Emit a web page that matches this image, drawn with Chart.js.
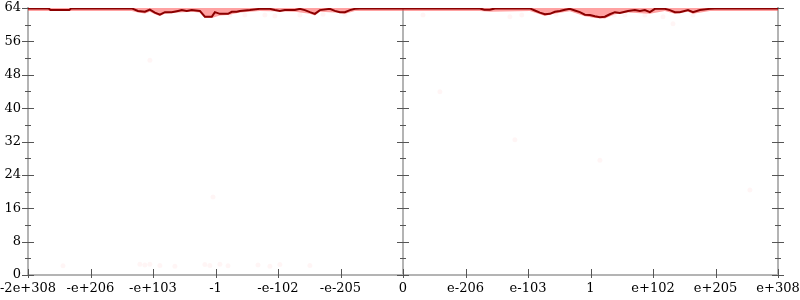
<!DOCTYPE html>
<html>
<head>
<meta charset="utf-8">
<script src="https://cdn.jsdelivr.net/npm/chart.js@4/dist/chart.umd.min.js"></script>
<style>
  html, body { margin: 0; padding: 0; background: #fff; }
  #wrap { width: 800px; height: 300px; }
</style>
</head>
<body>
<div id="wrap"><canvas id="bits-chart"></canvas></div>
<script>
// tick labels along the bottom (ordinal flonum positions 0..12)
const xTickLabels = ['-2e+308', '-e+206', '-e+103', '-1', '-e-102', '-e-205', '0',
  'e-206', 'e-103', '1', 'e+102', 'e+205', 'e+308'];

// mean bits of accuracy (dark line)
const meanX = [0, 0.33, 0.36, 0.66, 0.69, 1.66, 1.76, 1.87, 1.95, 2.03, 2.11, 2.19, 2.30, 2.40,
  2.46, 2.54, 2.62, 2.75, 2.83, 2.94, 2.99, 3.07, 3.20, 3.26, 3.34, 3.39, 3.55, 3.71, 3.87, 3.95,
  4.03, 4.11, 4.27, 4.35, 4.43, 4.51, 4.59, 4.67, 4.83, 4.91, 4.99, 5.07, 5.15, 5.23, 5.31, 5.95,
  7.23, 7.30, 7.39, 7.47, 8.03, 8.11, 8.19, 8.27, 8.35, 8.43, 8.51, 8.59, 8.67, 8.75, 8.83, 8.91,
  8.99, 9.07, 9.15, 9.23, 9.31, 9.39, 9.47, 9.60, 9.71, 9.79, 9.87, 9.95, 10.03, 10.19, 10.27,
  10.35, 10.43, 10.56, 10.64, 10.75, 10.91, 10.99, 12];
const meanBits = [63.9, 63.9, 63.5, 63.5, 63.9, 63.9, 63.3, 63.1, 63.6, 62.9, 62.4, 63.0, 63.0, 63.3,
  63.5, 63.3, 63.5, 63.3, 61.9, 61.9, 63.0, 62.6, 62.6, 63.1, 63.1, 63.3, 63.5, 63.8, 63.8, 63.5,
  63.3, 63.5, 63.5, 63.8, 63.5, 63.0, 62.6, 63.5, 63.8, 63.3, 63.0, 63.0, 63.5, 63.8, 63.9, 63.9,
  63.9, 63.6, 63.6, 63.9, 63.9, 63.4, 62.9, 62.5, 62.6, 63.1, 63.3, 63.6, 63.8, 63.4, 63.0, 62.4,
  62.3, 62.0, 61.8, 61.9, 62.5, 63.0, 62.8, 63.3, 63.5, 63.3, 63.5, 63.0, 63.8, 63.8, 63.5,
  63.0, 63.0, 63.5, 63.0, 63.5, 63.8, 63.9, 63.9];

// lower edge of the min/max band (light red)
const bandX = [0, 1.66, 1.76, 1.87, 1.95, 2.03, 2.11, 2.19, 2.40, 2.62, 2.75, 2.83, 2.94, 3.07,
  3.20, 3.39, 3.71, 4.27, 4.51, 4.59, 4.67, 4.91, 5.07, 5.23, 7.23, 7.39, 8.03, 8.19, 8.27, 8.43,
  8.67, 8.91, 9.07, 9.23, 9.39, 9.60, 9.95, 10.19, 10.35, 10.56, 10.64, 10.91, 12];
const bandLow = [63.3, 63.3, 62.9, 62.7, 63.1, 62.5, 62.1, 62.6, 62.9, 63.1, 62.9, 61.6, 61.6, 62.2,
  62.3, 62.9, 63.3, 63.1, 62.6, 62.2, 63.1, 62.9, 62.6, 63.3, 63.3, 63.1, 63.3, 62.5, 62.1, 62.7,
  63.2, 62.0, 61.6, 61.5, 62.5, 62.9, 62.6, 63.3, 62.6, 63.1, 62.6, 63.3, 63.3];

// scattered individual samples (very faint)
const sampleX = [0.56, 1.79, 1.87, 1.95, 2.11, 2.35, 2.83, 2.91, 3.07, 3.20, 3.68, 3.87, 4.03,
  4.51, 2.96, 3.23, 3.47, 3.79, 3.95, 4.35, 4.72, 5.07, 6.32, 7.71, 7.90, 8.45, 9.38, 9.55,
  9.87, 10.16, 10.32, 10.64, 1.95, 6.59, 7.79, 9.15, 11.55, 2.96];
const sampleBits = [2.2, 2.6, 2.4, 2.6, 2.3, 2.1, 2.5, 2.3, 2.6, 2.2, 2.4, 2.1, 2.5,
  2.3, 62.3, 62.3, 62.3, 62.3, 62.1, 62.3, 62.5, 62.5, 62.3, 61.9, 62.3, 62.5, 62.3, 62.3,
  62.3, 61.9, 60.2, 62.3, 51.5, 43.9, 32.4, 27.5, 20.4, 18.7];

const yStep = 8;
const AXIS_GRAY = '#b4b4b4';
const TICK_GRAY = '#555';
const FONT = { family: 'DejaVu Serif', size: 13 };

function pts(xs, ys) {
  return xs.map((x, i) => ({ x: x, y: ys[i] }));
}

// ticks that cross the axis lines, plus the centre axis at zero
const crossTicks = {
  id: 'crossTicks',
  beforeDatasetsDraw(chart) {
    const { ctx, chartArea, scales } = chart;
    const xs = scales.x, ys = scales.y;
    ctx.save();
    // centre vertical axis
    const cx = xs.getPixelForValue(6);
    ctx.strokeStyle = AXIS_GRAY;
    ctx.lineWidth = 2;
    ctx.beginPath();
    ctx.moveTo(cx, chartArea.top);
    ctx.lineTo(cx, chartArea.bottom);
    ctx.stroke();

    ctx.strokeStyle = TICK_GRAY;
    ctx.lineWidth = 1;
    const axesX = [chartArea.left, cx, chartArea.right];
    for (let v = 0; v <= 64; v += yStep / 2) {
      const py = Math.round(ys.getPixelForValue(v)) + 0.5;
      const major = v % yStep === 0;
      for (const ax of axesX) {
        ctx.beginPath();
        ctx.moveTo(ax - (major ? 6 : 3), py);
        ctx.lineTo(ax + (major ? 6 : 3), py);
        ctx.stroke();
      }
    }
    for (let i = 0; i < xTickLabels.length; i++) {
      const px = Math.round(xs.getPixelForValue(i)) + 0.5;
      ctx.beginPath();
      ctx.moveTo(px, chartArea.bottom - 6);
      ctx.lineTo(px, chartArea.bottom + 3);
      ctx.stroke();
    }
    ctx.restore();
  }
};

function fixWidth(w) {
  return function (scale) {
    scale.width = w;
    scale.paddingTop = 0;
    scale.paddingBottom = 0;
  };
}

const noGrid = { display: false, drawTicks: false, tickLength: 0 };

const chart = new Chart(document.getElementById('bits-chart'), {
  type: 'line',
  data: {
    datasets: [
      {
        label: 'samples',
        type: 'scatter',
        data: pts(sampleX, sampleBits),
        pointRadius: 2.5,
        pointBorderWidth: 0,
        backgroundColor: 'rgba(255,0,0,0.04)',
        order: 3
      },
      {
        label: 'range',
        data: pts(bandX, bandLow),
        borderWidth: 0,
        borderColor: 'rgba(0,0,0,0)',
        backgroundColor: 'rgba(255,70,70,0.5)',
        pointRadius: 0,
        tension: 0,
        fill: 'end',
        order: 2
      },
      {
        label: 'mean',
        data: pts(meanX, meanBits),
        borderColor: 'rgb(139,0,0)',
        borderWidth: 2,
        pointRadius: 0,
        tension: 0,
        fill: false,
        order: 1
      }
    ]
  },
  options: {
    animation: false,
    responsive: true,
    maintainAspectRatio: false,
    layout: { padding: { top: 8, left: 0, right: 0, bottom: 0 } },
    plugins: {
      legend: { display: false },
      tooltip: { enabled: false }
    },
    scales: {
      x: {
        type: 'linear',
        min: 0,
        max: 12,
        grid: noGrid,
        border: { display: true, color: AXIS_GRAY, width: 2 },
        ticks: {
          stepSize: 1,
          autoSkip: false,
          maxRotation: 0,
          padding: 6,
          color: '#000',
          font: FONT,
          callback: (v) => xTickLabels[v]
        },
        afterFit(scale) {
          scale.height = 25;
          scale.paddingLeft = 0;
          scale.paddingRight = 0;
        }
      },
      y: {
        position: 'left',
        min: 0,
        max: 64,
        grid: noGrid,
        border: { display: true, color: AXIS_GRAY, width: 2 },
        ticks: { stepSize: yStep, padding: 7, color: '#000', font: FONT },
        afterFit: fixWidth(28)
      },
      y2: {
        position: 'right',
        min: 0,
        max: 64,
        grid: noGrid,
        border: { display: true, color: AXIS_GRAY, width: 2 },
        ticks: { display: false },
        afterFit: fixWidth(22)
      }
    }
  },
  plugins: [crossTicks]
});
</script>
</body>
</html>
